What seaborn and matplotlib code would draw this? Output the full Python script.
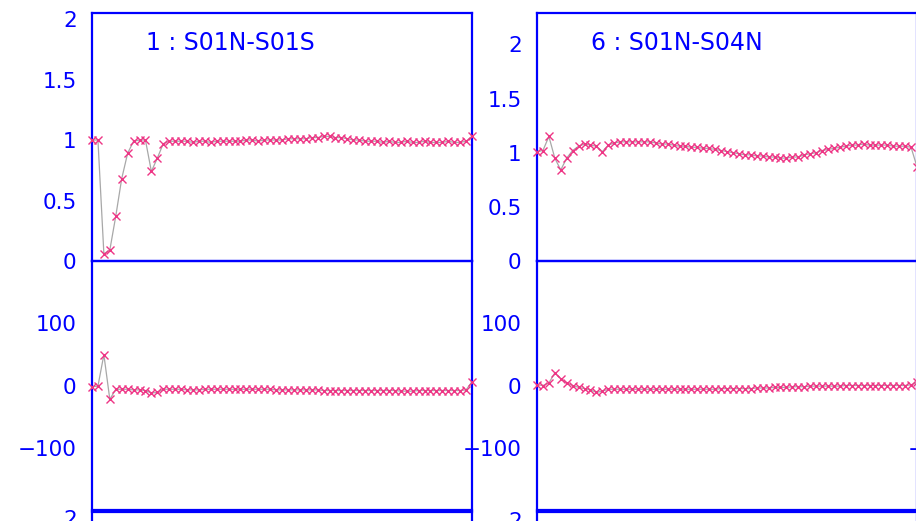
import numpy as np
import pandas as pd
import seaborn as sns
import matplotlib
matplotlib.use("Agg")
import matplotlib.pyplot as plt

# ---------------- data ----------------
freq_idx = list(range(65))

titles = ["1 : S01N-S01S", "6 : S01N-S04N"]

coh_1 = [1.00, 1.00, 0.06, 0.09, 0.37, 0.68, 0.89, 0.99, 1.00, 1.00,
         0.74, 0.85, 0.97, 0.99, 0.99, 0.99, 0.99, 0.98, 0.99, 0.99,
         0.98, 0.99, 0.99, 0.99, 0.99, 0.99, 1.00, 1.00, 0.99, 1.00,
         1.00, 1.00, 1.00, 1.01, 1.01, 1.01, 1.01, 1.02, 1.02, 1.03,
         1.03, 1.02, 1.02, 1.01, 1.00, 1.00, 0.99, 0.99, 0.99, 0.98,
         0.99, 0.98, 0.98, 0.99, 0.98, 0.98, 0.99, 0.98, 0.98, 0.98,
         0.99, 0.98, 0.98, 0.99, 1.03]

phase_1 = [-2, -1, 49, -22, -6, -6, -6, -7, -7, -8,
           -12, -11, -6, -6, -6, -6, -7, -7, -7, -6,
           -6, -6, -6, -6, -6, -6, -6, -6, -6, -6,
           -6, -7, -7, -7, -7, -7, -7, -7, -7, -8,
           -8, -8, -8, -8, -8, -8, -8, -8, -8, -8,
           -8, -8, -9, -9, -9, -8, -8, -8, -8, -8,
           -8, -8, -8, -7, 6]

coh_6 = [1.01, 1.02, 1.15, 0.95, 0.84, 0.95, 1.02, 1.06, 1.08, 1.07,
         1.06, 1.01, 1.07, 1.09, 1.10, 1.10, 1.10, 1.10, 1.10, 1.10,
         1.09, 1.08, 1.08, 1.07, 1.06, 1.06, 1.05, 1.05, 1.04, 1.04,
         1.03, 1.02, 1.01, 1.00, 0.99, 0.98, 0.98, 0.97, 0.97, 0.96,
         0.96, 0.95, 0.95, 0.96, 0.96, 0.98, 0.99, 1.00, 1.02, 1.03,
         1.04, 1.05, 1.06, 1.07, 1.07, 1.08, 1.07, 1.07, 1.07, 1.07,
         1.06, 1.06, 1.06, 1.05, 0.87]

phase_6 = [1, 0, 4, 20, 11, 4, 0, -3, -5, -7,
           -11, -9, -6, -6, -6, -6, -6, -6, -6, -6,
           -6, -6, -6, -6, -6, -6, -6, -6, -6, -6,
           -6, -5, -5, -5, -5, -5, -5, -4, -4, -4,
           -3, -3, -3, -2, -2, -2, -1, -1, -1, -1,
           -1, -1, 0, 0, 0, 0, 0, 0, 0, 0,
           0, 0, 0, 1, 5]

amp_ticks = [0, 0.5, 1, 1.5, 2]
amp_labels = ["0", "0.5", "1", "1.5", "2"]
phase_ticks = [-100, 0, 100]
phase_labels = ["\u2212100", "0", "100"]

# ---------------- style ----------------
sns.set_theme(style="white")
plt.rcParams['font.family'] = ['DejaVu Sans']

BLUE = "#0000ff"
PINK = "#ee3585"
GRAY = "#a8a8a8"
W, H = 916, 521

fig = plt.figure(figsize=(W / 100, H / 100), dpi=100)


def px_axes(x0, top, w, h):
    return fig.add_axes([x0 / W, (H - top - h) / H, w / W, h / H])


def style(ax, ylim, ticks, labels):
    ax.set_xlim(0, 64)
    ax.set_ylim(*ylim)
    ax.set_xticks([])
    ax.set_yticks(ticks)
    ax.set_yticklabels(labels)
    ax.tick_params(axis='y', length=0, pad=11, labelsize=15.5, labelcolor=BLUE)
    ax.set_facecolor("none")
    for s in ax.spines.values():
        s.set_color(BLUE)
        s.set_linewidth(1.6)
        s.set_visible(True)
    ax.set_xlabel("")
    ax.set_ylabel("")


cols_x = [92, 537, 982]
amp_tops = [2.05, 2.29, 2.05]
next_tops = [2.05, 2.07, 2.07]
series = [(coh_1, phase_1), (coh_6, phase_6)]

for ci, x0 in enumerate(cols_x):
    ax_a = px_axes(x0, 13, 380, 248)
    ax_p = px_axes(x0, 261, 380, 249)
    ax_n = px_axes(x0, 512, 380, 248)
    if ci < 2:
        coh, ph = series[ci]
        df = pd.DataFrame({"f": freq_idx, "coh": coh, "ph": ph})
        for ax, col in ((ax_a, "coh"), (ax_p, "ph")):
            sns.lineplot(data=df, x="f", y=col, ax=ax, color=GRAY, lw=0.9,
                         marker="x", markersize=5.2, markeredgewidth=1.0,
                         markeredgecolor=PINK, markerfacecolor=PINK,
                         clip_on=False, zorder=3)
        ax_a.text(0.142, 0.879, titles[ci], transform=ax_a.transAxes,
                  color=BLUE, fontsize=17, ha="left", va="center")
    style(ax_a, (0, amp_tops[ci]), amp_ticks, amp_labels)
    style(ax_p, (-198, 198), phase_ticks, phase_labels)
    style(ax_n, (0, next_tops[ci]), amp_ticks, amp_labels)

fig.savefig("out.png", dpi=100)
